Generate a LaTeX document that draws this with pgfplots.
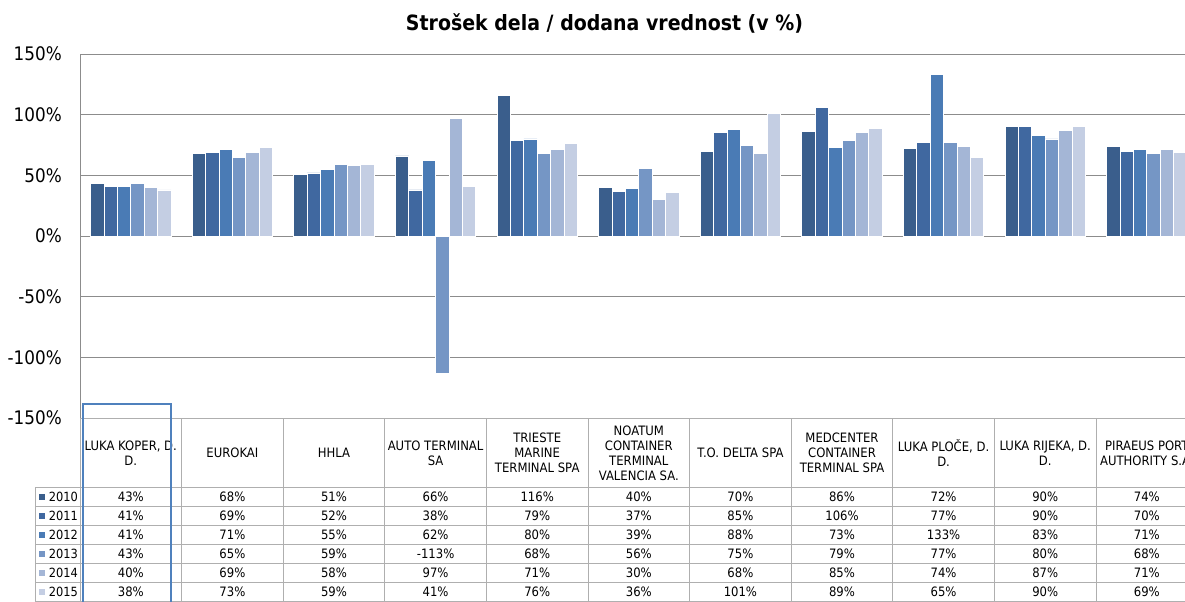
\documentclass[border=0pt]{standalone}
\usepackage{pgfplots}
\usepackage{pgfplotstable}
\pgfplotsset{compat=1.18}
\usepackage{fontspec}
\setmainfont{DejaVu Sans}[FakeStretch=0.9]
\definecolor{c10}{RGB}{58,94,140}
\definecolor{c11}{RGB}{64,104,160}
\definecolor{c12}{RGB}{74,123,181}
\definecolor{c13}{RGB}{117,150,197}
\definecolor{c14}{RGB}{164,182,214}
\definecolor{c15}{RGB}{196,206,227}
\definecolor{gridc}{RGB}{140,140,140}
\definecolor{tabc}{RGB}{175,175,175}
\definecolor{hl}{RGB}{79,129,189}
\pgfplotstableread{
x y2010 y2011 y2012 y2013 y2014 y2015
0 43 41 41 43 40 38
1 68 69 71 65 69 73
2 51 52 55 59 58 59
3 66 38 62 -113 97 41
4 116 79 80 68 71 76
5 40 37 39 56 30 36
6 70 85 88 75 68 101
7 86 106 73 79 85 89
8 72 77 133 77 74 65
9 90 90 83 80 87 90
10 74 70 71 68 71 69
}\data
\begin{document}
\begin{tikzpicture}[x=0.75pt,y=0.75pt]
\begin{axis}[
  at={(60pt,-313.5pt)}, anchor=south west,
  width=838.2pt, height=273pt, scale only axis,
  xmin=-0.5, xmax=10.5, ymin=-150, ymax=150,
  axis x line=none,
  axis y line*=left,
  y axis line style={draw=gridc, line width=0.75pt, -},
  ytick={-150,-100,-50,0,50,100,150},
  yticklabel={\pgfmathprintnumber{\tick}\%},
  yticklabel style={font=\fontsize{14}{16}\selectfont, anchor=east, inner sep=0pt, xshift=-13.5pt},
  major tick length=0pt,
  ymajorgrids, grid style={draw=gridc, line width=0.75pt},
  /pgf/number format/assume math mode=true,
  ybar=0pt, bar width=10.05pt,
  clip=false,
]
\addplot[fill=c10, draw=white, line width=0.6pt] table[x=x,y=y2010]{\data};
\addplot[fill=c11, draw=white, line width=0.6pt] table[x=x,y=y2011]{\data};
\addplot[fill=c12, draw=white, line width=0.6pt] table[x=x,y=y2012]{\data};
\addplot[fill=c13, draw=white, line width=0.6pt] table[x=x,y=y2013]{\data};
\addplot[fill=c14, draw=white, line width=0.6pt] table[x=x,y=y2014]{\data};
\addplot[fill=c15, draw=white, line width=0.6pt] table[x=x,y=y2015]{\data};
\end{axis}
% title
\node[font=\fontsize{15.8}{18}\bfseries\selectfont] at (604.5,-23) {Strošek dela / dodana vrednost (v \%)};
% table grid
\begin{scope}[draw=tabc, line width=0.75pt]
  \draw (80,-418) -- (1200,-418);
  \foreach \k in {0,...,11} { \draw (80+101.6*\k,-418) -- (80+101.6*\k,-605); }
  \draw (35,-487.5) -- (35,-605);
  \foreach \yy in {487.5,506.5,525.5,544.5,563.5,582.5,601.5} { \draw (35,-\yy) -- (1200,-\yy); }
\end{scope}
% header labels
\begin{scope}[font=\fontsize{9.7}{11.2}\selectfont, align=center]
  \foreach \lab [count=\k from 0] in {
    {LUKA KOPER, D.\\D.},
    {EUROKAI},
    {HHLA},
    {AUTO TERMINAL\\SA},
    {TRIESTE\\MARINE\\TERMINAL SPA},
    {NOATUM\\CONTAINER\\TERMINAL\\VALENCIA SA.},
    {T.O. DELTA SPA},
    {MEDCENTER\\CONTAINER\\TERMINAL SPA},
    {LUKA PLOČE, D.\\D.},
    {LUKA RIJEKA, D.\\D.},
    {PIRAEUS PORT\\AUTHORITY S.A.}}
  { \node at (80+101.6*\k+50.8,-453) {\lab}; }
\end{scope}
% row headers
\foreach \yr/\c [count=\i from 0] in {2010/c10,2011/c11,2012/c12,2013/c13,2014/c14,2015/c15} {
  \fill[\c] (39,-497-19*\i+3) rectangle (45,-497-19*\i-3);
  \node[font=\fontsize{9.5}{11}\selectfont, anchor=west, inner sep=0pt] at (48.5,-497-19*\i) {\yr};
}
% values
\foreach \r in {0,...,10} {
  \foreach \yr [count=\i from 0] in {2010,2011,2012,2013,2014,2015} {
    \pgfplotstablegetelem{\r}{y\yr}\of\data
    \node[font=\fontsize{9.7}{11}\selectfont, inner sep=0pt] at (80+101.6*\r+50.8,-497-19*\i) {\pgfplotsretval\%};
  }
}
% highlight
\draw[hl, line width=1.5pt] (83,-404) rectangle (171,-612);
\pgfresetboundingbox
\useasboundingbox (0,0) rectangle (1185,-601);
\end{tikzpicture}
\end{document}
